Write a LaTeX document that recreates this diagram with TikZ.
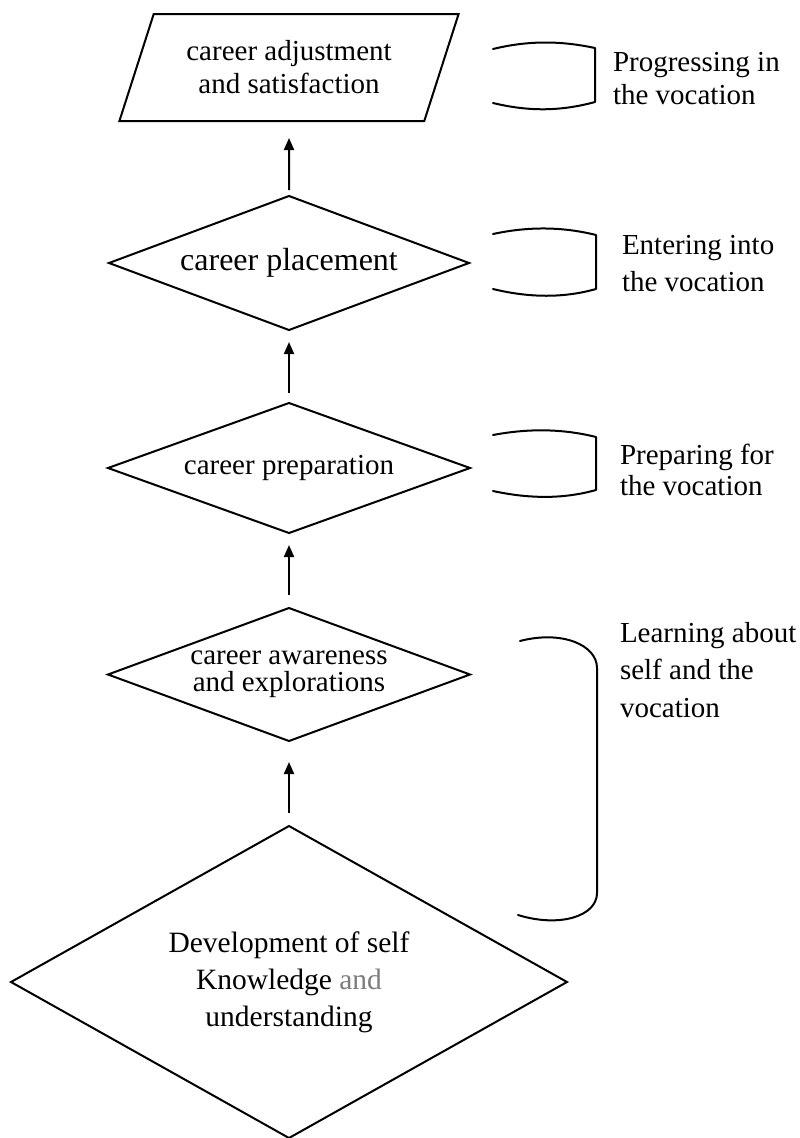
\documentclass[tikz,border=0pt]{standalone}
\usepackage{fontspec}
\setmainfont{Liberation Serif}
\usetikzlibrary{shapes.geometric,arrows.meta}
\definecolor{andgray}{RGB}{125,125,125}
\begin{document}
\begin{tikzpicture}[x=1pt,y=-1pt,
  shp/.style={draw=black, line width=2pt, inner sep=0pt, outer sep=0pt, align=center, font=\fontsize{29}{33}\selectfont},
  dia/.style={shp, diamond, aspect=2.7},
  lbl/.style={inner sep=0pt, outer sep=0pt, align=left, anchor=west, font=\fontsize{29}{35}\selectfont},
  arr/.style={line width=2pt, -{Triangle[length=12pt,width=10pt]}},
  brk/.style={line width=2pt, line cap=round, line join=round}]
\useasboundingbox[fill=white] (0,0) rectangle (800,1138);

% main column
\node[shp, trapezium, trapezium left angle=64, trapezium right angle=116,
      trapezium stretches=true, minimum width=340pt, minimum height=107pt]
      (adj) at (289,67.5) {career adjustment\\and satisfaction};
\node[dia, minimum width=360pt, minimum height=134pt, font=\fontsize{32}{36}\selectfont] (place) at (289,263) {career placement};
\node[dia, minimum width=362pt, minimum height=130pt] (prep) at (289,468) {career preparation};
\node[dia, minimum width=362pt, minimum height=133pt, font=\fontsize{29}{27}\selectfont] (aware) at (289,674.5) {career awareness\\and explorations};
\node[dia, aspect=1.77, minimum width=556pt, minimum height=312pt, font=\fontsize{29.5}{37}\selectfont] (dev) at (289,982) {Development of self\\Knowledge \textcolor{andgray}{and}\\understanding};

% arrows
\draw[arr, shorten <=6pt, shorten >=17pt] (place.north) -- (adj.south);
\draw[arr, shorten <=10pt, shorten >=12pt] (prep.north) -- (place.south);
\draw[arr, shorten <=13pt, shorten >=12pt] (aware.north) -- (prep.south);
\draw[arr, shorten <=13pt, shorten >=21pt] (dev.north) -- (aware.south);

% brackets
\draw[brk] (493,49) .. controls (530,40) and (562,41) .. (595,48) -- (595,102)
           .. controls (562,111) and (530,112) .. (493,103);
\draw[brk] (493,234) .. controls (530,226) and (564,227) .. (596,235) -- (596,289)
           .. controls (564,298) and (530,298) .. (493,289);
\draw[brk] (493,435) .. controls (530,428) and (564,429) .. (596,437) -- (596,490)
           .. controls (564,499) and (530,499) .. (493,491);
\draw[brk] (520,641) .. controls (562,630) and (597,645) .. (597,668) -- (597,893)
           .. controls (597,916) and (560,928) .. (518,915);

% side labels
\node[lbl, font=\fontsize{29}{33}\selectfont] (l1) at (613,78.5) {Progressing in\\the vocation};
\node[lbl, font=\fontsize{29}{37}\selectfont] (l2) at (622,263.5) {Entering into\\the vocation};
\node[lbl, font=\fontsize{29}{31}\selectfont] (l3) at (620,470) {Preparing for\\the vocation};
\node[lbl, font=\fontsize{29}{37.5}\selectfont] (l4) at (620,670) {Learning about\\self and the\\vocation};
\end{tikzpicture}
\end{document}
